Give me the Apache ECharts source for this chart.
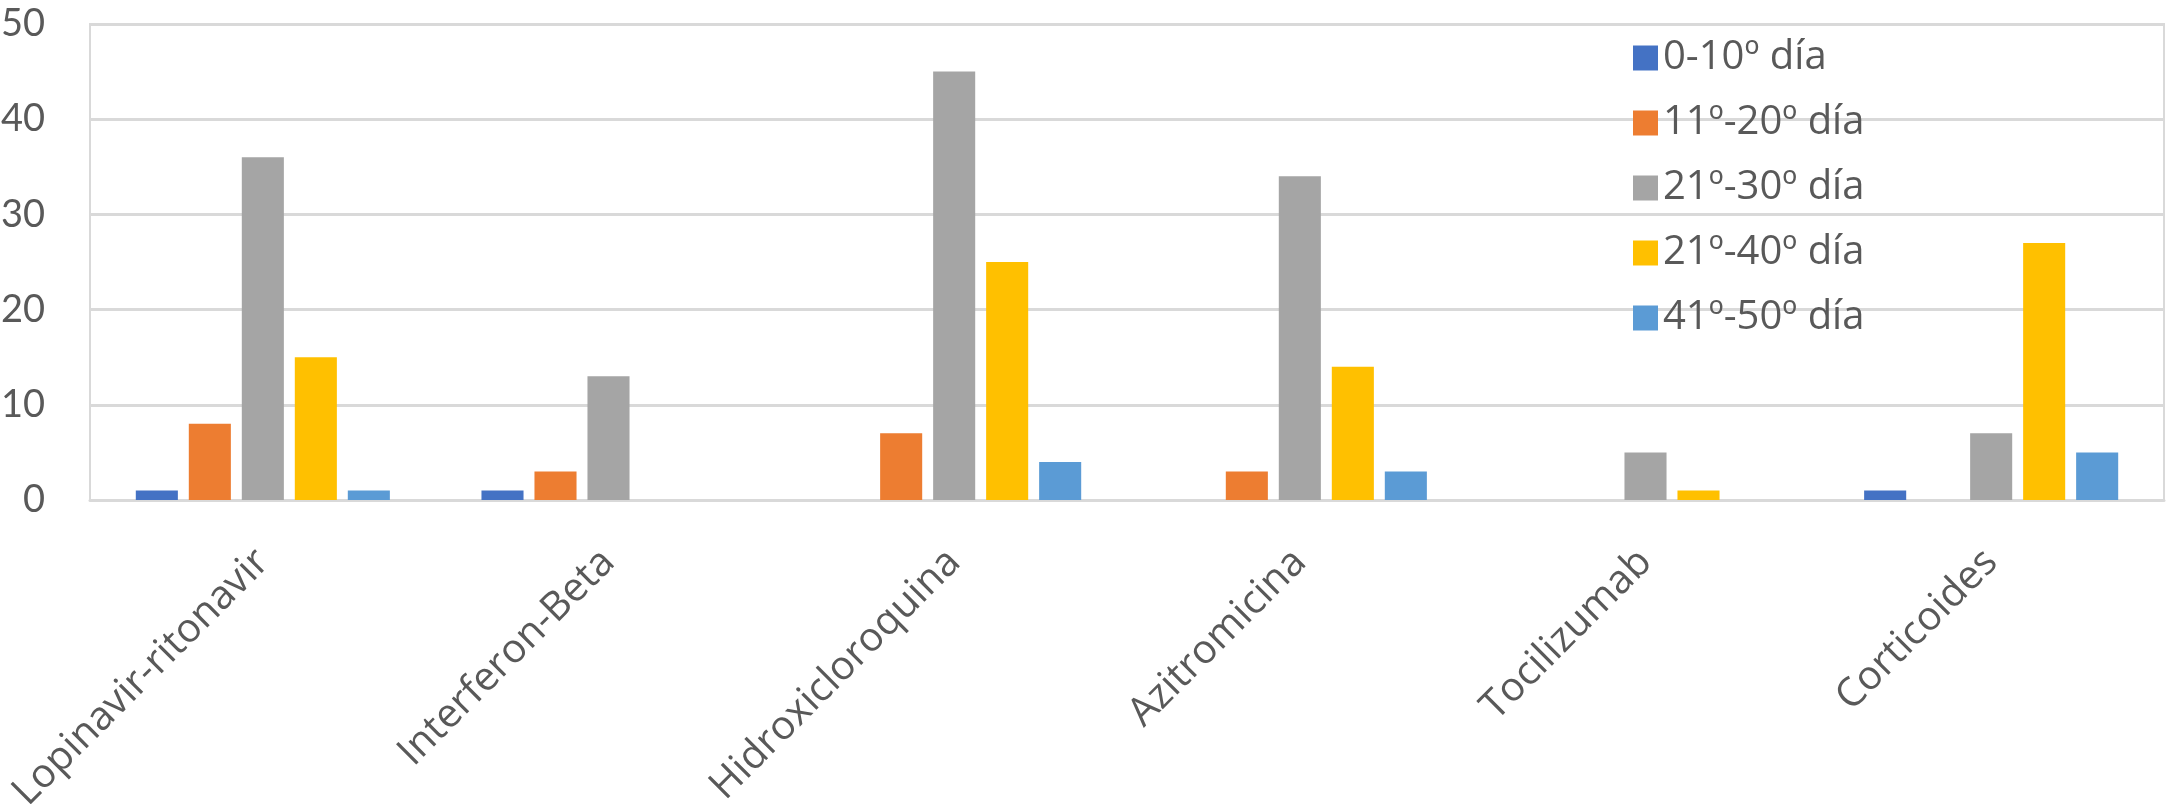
<!DOCTYPE html>
<html>
<head>
<meta charset="utf-8">
<script src="https://cdn.jsdelivr.net/npm/echarts@6/dist/echarts.min.js"></script>
<style>
  html, body { margin: 0; padding: 0; background: #fff; }
  #chart { width: 2167px; height: 804px; }
</style>
</head>
<body>
<div id="chart"></div>
<script>
// categorias (farmacos)
var categories = ['Lopinavir-ritonavir', 'Interferon-Beta', 'Hidroxicloroquina', 'Azitromicina', 'Tocilizumab', 'Corticoides'];

// series por intervalo de dias
var seriesNames = ['0-10º día', '11º-20º día', '21º-30º día', '21º-40º día', '41º-50º día'];
var dia0_10  = [1, 1, 0, 0, 0, 1];
var dia11_20 = [8, 3, 7, 3, 0, 0];
var dia21_30 = [36, 13, 45, 34, 5, 7];
var dia21_40 = [15, 0, 25, 14, 1, 27];
var dia41_50 = [1, 0, 4, 3, 0, 5];
var yTicks = [0, 10, 20, 30, 40, 50];

var colors = ['#4472C4', '#ED7D31', '#A5A5A5', '#FFC000', '#5B9BD5'];
var valores = [dia0_10, dia11_20, dia21_30, dia21_40, dia41_50];

var chart = echarts.init(document.getElementById('chart'));

var series = seriesNames.map(function (name, i) {
  return {
    name: name,
    type: 'bar',
    barGap: '26%',
    barCategoryGap: '26.5%',
    itemStyle: { color: colors[i] },
    data: valores[i]
  };
});

var option = {
  animation: false,
  textStyle: { fontFamily: 'Open Sans' },
  grid: {
    left: 90,
    right: 3,
    top: 24,
    bottom: 304,
    outerBoundsMode: 'none',
    containLabel: false,
    show: true,
    borderColor: '#D9D9D9',
    borderWidth: 2
  },
  legend: {
    orient: 'vertical',
    left: 1628,
    top: 33,
    itemWidth: 25,
    itemHeight: 25,
    itemGap: 25,
    icon: 'rect',
    data: seriesNames,
    textStyle: { fontSize: 40, color: '#595959', fontFamily: 'Open Sans', lineHeight: 40, padding: [0, 0, 0, 0] }
  },
  xAxis: {
    type: 'category',
    data: categories,
    axisLine: { lineStyle: { color: '#D9D9D9', width: 3 } },
    axisTick: { show: false },
    axisLabel: {
      rotate: 45,
      margin: 56,
      fontSize: 40,
      color: '#595959',
      fontFamily: 'Open Sans',
      interval: 0
    }
  },
  yAxis: {
    type: 'value',
    min: yTicks[0],
    max: yTicks[yTicks.length - 1],
    interval: 10,
    axisLine: { show: true, lineStyle: { color: '#D9D9D9', width: 2 } },
    axisTick: { show: false },
    splitLine: { lineStyle: { color: '#D9D9D9', width: 3 } },
    axisLabel: {
      margin: 45,
      fontSize: 38,
      color: '#595959',
      fontFamily: 'Lato'
    }
  },
  series: series
};

chart.setOption(option);
</script>
</body>
</html>
